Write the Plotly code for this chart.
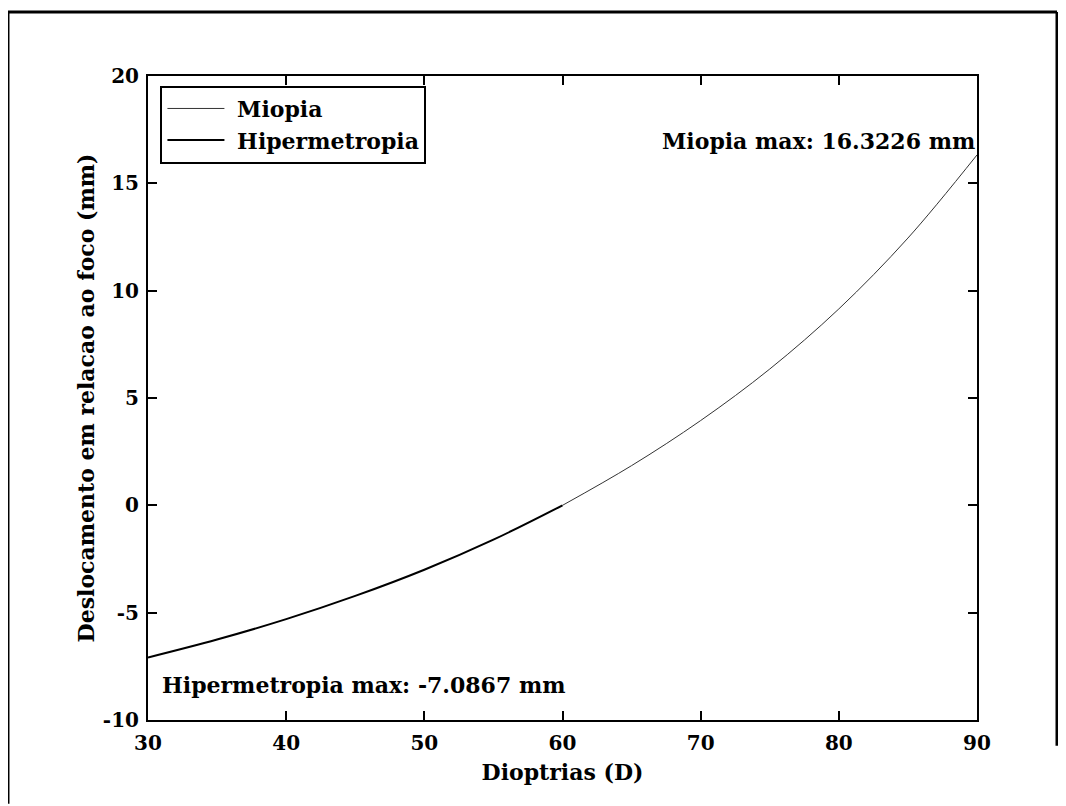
import plotly.graph_objects as go

# Data
dioptrias_hiper = [30, 35, 40, 45, 50, 55, 60]
desloc_hiper = [-7.0867, -6.25, -5.30, -4.22, -3.00, -1.60, 0.0]
dioptrias_miopia = [60, 65, 70, 75, 80, 85, 90]
desloc_miopia = [0.0, 1.85, 3.95, 6.35, 9.15, 12.45, 16.3226]

x_ticks = [30, 40, 50, 60, 70, 80, 90]
y_ticks = [-10, -5, 0, 5, 10, 15, 20]

FONT = "DejaVu Serif"
fsz = 22
tsz = 20

fig = go.Figure()
fig.add_trace(go.Scatter(x=dioptrias_miopia, y=desloc_miopia, mode="lines",
                         name="<b>&nbsp;Miopia</b>", line=dict(color="#333333", width=1, shape="spline")))
fig.add_trace(go.Scatter(x=dioptrias_hiper, y=desloc_hiper, mode="lines",
                         name="<b>&nbsp;Hipermetropia</b>", line=dict(color="black", width=2, shape="spline")))

axis_common = dict(showline=True, linecolor="black", linewidth=2, mirror="ticks",
                   ticks="inside", ticklen=9, tickwidth=2, tickcolor="black",
                   showgrid=False, zeroline=False,
                   tickfont=dict(family=FONT, size=tsz, color="black"))

fig.update_xaxes(range=[30, 90], tickvals=x_ticks,
                 ticktext=[f"<b>{v}</b>" for v in x_ticks],
                 ticklabelstandoff=4,
                 title=dict(text="<b>Dioptrias (D)</b>", font=dict(family=FONT, size=fsz, color="black"),
                            standoff=11),
                 **axis_common)
fig.update_yaxes(range=[-10, 20], tickvals=y_ticks,
                 ticktext=[f"<b>{v}</b>" for v in y_ticks],
                 ticklabelstandoff=3,
                 title=dict(text="<b>Deslocamento em relacao ao foco (mm)</b>",
                            font=dict(family=FONT, size=fsz, color="black"), standoff=2),
                 **axis_common)

fig.add_annotation(x=90, y=16.95, xref="x", yref="y", text="<b>Miopia max: 16.3226 mm</b>",
                   showarrow=False, xanchor="right", yanchor="middle",
                   font=dict(family=FONT, size=fsz, color="black"))
fig.add_annotation(x=30.9, y=-8.35, xref="x", yref="y", text="<b>Hipermetropia max: -7.0867 mm</b>",
                   showarrow=False, xanchor="left", yanchor="middle",
                   font=dict(family=FONT, size=fsz, color="black"))

# outer frame of the scanned page
frame = dict(type="line", xref="paper", yref="paper", line=dict(color="black", width=3))
fig.add_shape(x0=-0.1689, x1=1.0965, y0=1.0994, y1=1.0994, **frame)
fig.add_shape(x0=-0.1689, x1=-0.1689, y0=1.0994, y1=-0.13, **frame)
fig.add_shape(x0=1.0965, x1=1.0965, y0=1.0994, y1=-0.04, **frame)

fig.update_layout(
    width=1058, height=798,
    margin=dict(l=140, r=89, t=68, b=86),
    paper_bgcolor="white", plot_bgcolor="white",
    font=dict(family=FONT, size=fsz, color="black"),
    legend=dict(x=0.015, y=0.985, xanchor="left", yanchor="top",
                bgcolor="white", bordercolor="black", borderwidth=2,
                font=dict(family=FONT, size=fsz, color="black"),
                tracegroupgap=0, itemwidth=57),
    showlegend=True,
)

fig.write_html("out.html")
